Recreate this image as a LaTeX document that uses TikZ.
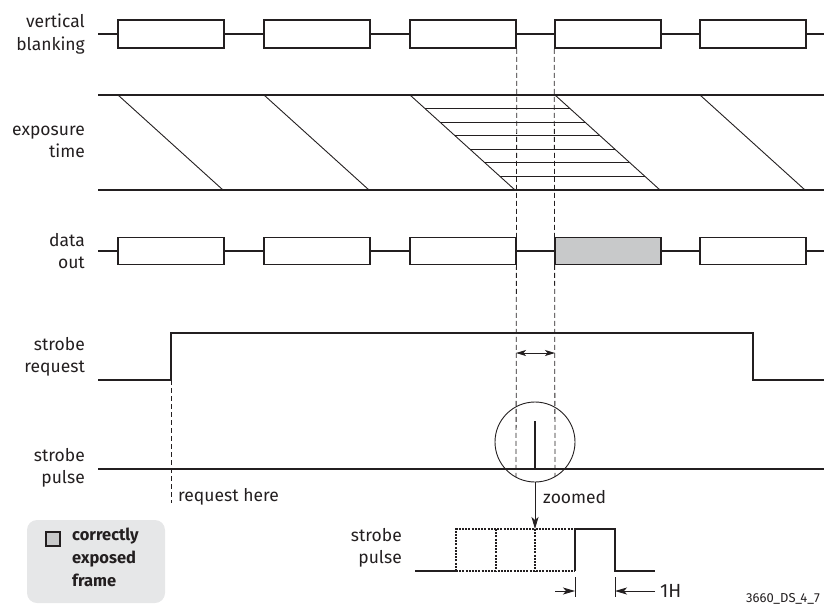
\documentclass[tikz,border=0pt]{standalone}
\usepackage{fontspec}
\setmainfont{Fira Sans}
\usetikzlibrary{arrows.meta}
\definecolor{boxgray}{HTML}{C8C9CA}
\definecolor{leggray}{HTML}{E6E7E8}
\definecolor{ink}{HTML}{231F20}
\begin{document}
\begin{tikzpicture}[x=1pt,y=-1pt,
  sig/.style={draw=ink,line width=1.6pt},
  thinline/.style={draw=ink,line width=0.9pt},
  dashv/.style={draw=ink,line width=0.8pt,dash pattern=on 5pt off 3pt},
  dotl/.style={draw=ink,line width=2pt,dash pattern=on 2pt off 1.2pt},
  lbl/.style={anchor=east,align=right,inner sep=0pt,text=ink,font=\fontsize{17.5}{22.5}\selectfont},
  txt/.style={anchor=west,inner sep=0pt,text=ink,font=\fontsize{17.5}{22.5}\selectfont},
  framebox/.style={draw=ink,line width=1.6pt,fill=white,minimum width=106pt,minimum height=28pt,inner sep=0pt},
  arr/.style={-{Stealth[length=12pt,width=7pt,inset=3pt]}},
]
\useasboundingbox (0,0) rectangle (824,606);

% labels
\node[lbl] (lvb) at (85,34) {vertical\\blanking};
\node[lbl] (lexp) at (85,142) {exposure\\time};
\node[lbl] (ldo) at (85,251) {data\\out};
\node[lbl] (lsr) at (85,357) {strobe\\request};
\node[lbl] (lsp) at (85,468) {strobe\\pulse};
\node[lbl] (lzp) at (402,548) {strobe\\pulse};

% vertical blanking
\coordinate (vbs) at (98,34);
\coordinate (vbe) at (824,34);
\foreach \i/\x in {1/171,2/317,3/463,4/608,5/753}{
  \node[framebox] (vb\i) at (\x,34) {};
}
\draw[sig] (vbs) -- (vb1.west) (vb1.east) -- (vb2.west) (vb2.east) -- (vb3.west)
  (vb3.east) -- (vb4.west) (vb4.east) -- (vb5.west) (vb5.east) -- (vbe);

% exposure
\coordinate (et0) at (98,95); \coordinate (et1) at (824,95);
\coordinate (eb0) at (98,190); \coordinate (eb1) at (824,190);
\draw[sig] (et0) -- (et1);
\draw[sig] (eb0) -- (eb1);
\foreach \x in {118,264,410,555,700}{
  \draw[thinline] (\x,95) -- (\x+105,190);
}
\foreach \k in {1,...,6}{
  \draw[thinline] ({410+105*\k/7},{95+95*\k/7}) -- ({555+105*\k/7},{95+95*\k/7});
}

% data out
\coordinate (dos) at (98,251);
\coordinate (doe) at (824,251);
\foreach \i/\x in {1/171,2/317,3/463,5/753}{
  \node[framebox,minimum height=27pt] (do\i) at (\x,251) {};
}
\node[framebox,minimum height=27pt,fill=boxgray] (do4) at (608,251) {};
\draw[sig] (dos) -- (do1.west) (do1.east) -- (do2.west) (do2.east) -- (do3.west)
  (do3.east) -- (do4.west) (do4.east) -- (do5.west) (do5.east) -- (doe);

% strobe request
\coordinate (sr0) at (98,380);
\coordinate (sr1) at (171,380);
\coordinate (sr2) at (753,333);
\coordinate (sr3) at (824,380);
\draw[sig] (sr0) -- (sr1) |- (sr2) |- (sr3);

% dashed lines
\coordinate (d1b) at (516,477);
\coordinate (d2b) at (555,477);
\draw[dashv] (vb3.south east) -- (d1b);
\draw[dashv] (vb4.south west) -- (d2b);
\coordinate (rq) at (171,503);
\draw[dashv] (sr1) -- (rq);
\coordinate (da1) at (516,353);
\coordinate (da2) at (555,353);
\draw[draw=ink,line width=0.9pt,{Stealth[length=10pt,width=6pt,inset=2.5pt]}-{Stealth[length=10pt,width=6pt,inset=2.5pt]}] (da1) -- (da2);

% strobe pulse
\coordinate (sp0) at (98,469);
\coordinate (sp1) at (824,469);
\draw[sig] (sp0) -- (sp1);
\coordinate (spk0) at (535,469);
\coordinate (spk1) at (535,421);
\draw[sig] (spk0) -- (spk1);
\node[thinline,circle,minimum size=80pt,inner sep=0pt] (zc) at (535,442) {};
\node[txt] (rqh) at (178,497) {request here};

% zoom arrow
\coordinate (zt) at (535,529);
\draw[draw=ink,line width=0.9pt,arr] (zc.south) -- (zt);
\node[txt] (zl) at (543,497) {zoomed};

% zoomed pulse
\coordinate (z0) at (415,571);
\coordinate (z1) at (456,571);
\coordinate (z2) at (575,571);
\coordinate (z3) at (615,571);
\coordinate (z4) at (655,571);
\coordinate (zt1) at (456,529);
\coordinate (zt2) at (575,529);
\draw[sig] (z0) -- (z1);
\draw[dotl] (z1) -- (zt1) -- (zt2);
\draw[dotl] (z1) -- (z2);
\draw[dotl] (496,529) -- (496,571);
\draw[dotl] (535,529) -- (535,571);
\draw[sig] (z2) -- (zt2) -- (615,529) -- (z3) -- (z4);

% 1H
\coordinate (h1a) at (575,577); \coordinate (h1b) at (575,597);
\coordinate (h2a) at (615,577); \coordinate (h2b) at (615,597);
\draw[thinline] (h1a) -- (h1b);
\draw[thinline] (h2a) -- (h2b);
\coordinate (ha0) at (555,591); \coordinate (ha1) at (575,591);
\coordinate (hb0) at (655,591); \coordinate (hb1) at (615,591);
\draw[draw=ink,line width=0.9pt,arr] (ha0) -- (ha1);
\draw[draw=ink,line width=0.9pt,arr] (hb0) -- (hb1);
\node[anchor=west,inner sep=0pt,text=ink,font=\fontsize{19}{22}\selectfont] (lh) at (660,591) {1H};

% legend
\node[fill=leggray,rounded corners=10pt,minimum width=138pt,minimum height=83pt,inner sep=0pt] (leg) at (96,561.5) {};
\node[draw=ink,line width=1.2pt,fill=boxgray,minimum size=14pt,inner sep=0pt] (legsq) at (53,539) {};
\node[anchor=north west,align=left,inner sep=0pt,text=ink,font=\bfseries\fontsize{16.5}{23}\selectfont] (legt) at (72,528) {correctly\\exposed\\frame};

% id
\node[anchor=west,inner sep=0pt,text=ink,font=\fontsize{13}{15}\selectfont] (id) at (746,599) {3660\_DS\_4\_7};
\end{tikzpicture}
\end{document}
